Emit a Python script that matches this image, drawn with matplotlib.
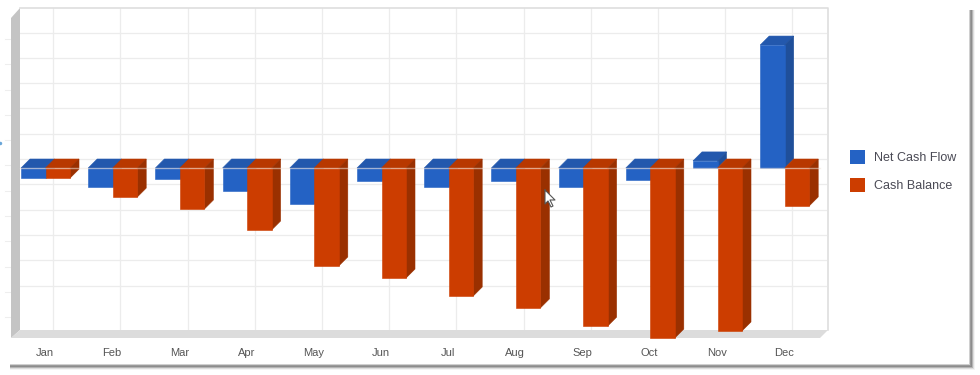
import matplotlib
matplotlib.use("Agg")
import matplotlib.pyplot as plt
from matplotlib.patches import Polygon, Rectangle

plt.rcParams["font.family"] = ["Liberation Sans", "DejaVu Sans"]

months = ["Jan", "Feb", "Mar", "Apr", "May", "Jun", "Jul", "Aug", "Sep", "Oct", "Nov", "Dec"]
net_cash_flow = [-4.0, -7.5, -4.3, -9.1, -14.2, -5.1, -7.5, -5.1, -7.5, -4.7, 2.8, 48.6]
cash_balance = [-4.0, -11.5, -16.2, -24.5, -38.7, -43.5, -50.6, -55.3, -62.5, -67.2, -64.4, -15.0]
series_names = ["Net Cash Flow", "Cash Balance"]

# pixel scale of the reference: one month = 67.2px, one y unit = 2.53px
PX_X = 67.2
PX_Y = 2.53
X0 = 45.5
Y0 = 168
BAR_W = 24.5 / PX_X
DX = 9 / PX_X
DY = 9 / PX_Y

BLUE = ("#2462c4", "#2358ad", "#1f4f9a")  # front, top, side
RED = ("#cc3d00", "#b83800", "#9a3000")


def px(x, y):
    return (x - X0) / PX_X, (Y0 - y) / PX_Y


fig = plt.figure(figsize=(9.8, 3.75), dpi=100)
ax = fig.add_axes([0, 0, 1, 1])
ax.set_xlim(px(0, 0)[0], px(980, 0)[0])
ax.set_ylim(px(0, 375)[1], px(0, 0)[1])
ax.axis("off")


def poly(points, color, z, **kw):
    ax.add_patch(Polygon([px(*p) for p in points], closed=True, fc=color, ec="none", zorder=z, **kw))


# soft window shadow of the screenshot
shadow = ["#f4f4f4", "#dddddd", "#b4b4b4", "#8c8c8c", "#9a9a9a", "#d0d0d0"]
for i, c in enumerate(shadow):
    poly([(10, 369 - i), (974 - i, 369 - i), (974 - i, 10), (975 - i, 10), (975 - i, 370 - i), (10, 370 - i)], c, 1)

# chart walls
poly([(20, 8), (828, 8), (828, 330), (20, 330)], "#ffffff", 2)
poly([(20, 8), (20, 330), (11, 338), (11, 18)], "#c4c4c4", 3)
poly([(20, 330), (828, 330), (820, 338), (11, 338)], "#dcdcdc", 3)
ax.plot(*zip(px(20, 8), px(828, 8), px(828, 330)), color="#dedede", lw=1.2, zorder=3)

# grid on the back wall
for k in range(-5, 6):
    ax.plot([px(20, 0)[0], px(826, 0)[0]], [k * 10 + DY] * 2, color="#ececec", lw=0.9, zorder=2.5)
for i in range(len(months)):
    ax.plot([i + DX * 0.85] * 2, [px(0, 8)[1], px(0, 330)[1]], color="#ececec", lw=0.9, zorder=2.5)

# faint ticks left of the wall, and the stray dot at the screenshot edge
for k in range(-6, 6):
    ax.plot([px(5, 0)[0], px(11, 0)[0]], [k * 10 + 1] * 2, color="#eeeeee", lw=0.8, zorder=2)
ax.plot(*px(0.5, 143), "o", ms=2.5, color="#6aa6d8", mec="none", zorder=2)


def bar3d(x, value, colors, z):
    left, right = x, x + BAR_W
    top = max(value, 0)
    bottom = min(value, 0)
    ax.bar(left, top - bottom, BAR_W, bottom=bottom, align="edge", color=colors[0], ec=colors[0], lw=0.4, zorder=z + 0.2)
    ax.add_patch(Polygon([(left, top), (left + DX, top + DY), (right + DX, top + DY), (right, top)],
                         fc=colors[1], ec=colors[1], lw=0.4, zorder=z))
    ax.add_patch(Polygon([(right, top), (right + DX, top + DY), (right + DX, bottom + DY), (right, bottom)],
                         fc=colors[2], ec=colors[2], lw=0.4, zorder=z + 0.1))


for i in range(len(months)):
    bar3d(i - BAR_W, net_cash_flow[i], BLUE, 4 + i)
    bar3d(i, cash_balance[i], RED, 4.5 + i)
    ax.text(i - 0.01, px(0, 353)[1], months[i], ha="center", va="center", fontsize=8, color="#555555", zorder=30)

# pale zero line running over the bars
ax.plot([px(20, 0)[0], px(820, 0)[0]], [0, 0], color="#f0e4dc", lw=1, alpha=0.55, zorder=25)

# legend
for name, color, y in zip(series_names, [BLUE[0], RED[0]], [157, 185]):
    x1, y1 = px(850, y + 7)
    ax.add_patch(Rectangle((x1, y1), 15 / PX_X, 14 / PX_Y, fc=color, ec="none", zorder=30))
    ax.text(px(874, 0)[0], px(0, y + 1)[1], name, ha="left", va="center", fontsize=9, color="#4a4a55", zorder=30)

# mouse pointer in the screenshot
cursor = [(545, 190), (545, 204), (548, 201), (551, 207), (553, 206), (550, 200), (555, 200)]
poly(cursor, "#ffffff", 31)
ax.plot(*zip(*[px(*p) for p in cursor + cursor[:1]]), color="#555555", lw=0.8, zorder=32)

fig.savefig("out.png", dpi=100, facecolor="white")
